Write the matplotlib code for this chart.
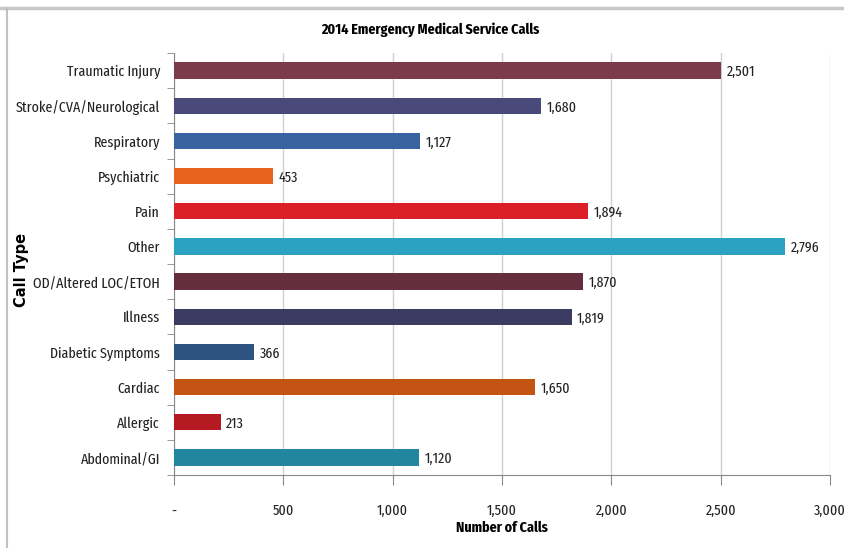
import matplotlib
matplotlib.use("Agg")
import matplotlib.pyplot as plt
from matplotlib.lines import Line2D
from matplotlib import font_manager
from matplotlib.font_manager import FontProperties

categories = ["Traumatic Injury", "Stroke/CVA/Neurological", "Respiratory", "Psychiatric",
              "Pain", "Other", "OD/Altered LOC/ETOH", "Illness", "Diabetic Symptoms",
              "Cardiac", "Allergic", "Abdominal/GI"]
values = [2501, 1680, 1127, 453, 1894, 2796, 1870, 1819, 366, 1650, 213, 1120]
colors = ["#7B3B4B", "#4A4A7A", "#3A64A0", "#E8641E", "#DC2028", "#2BA3C0",
          "#652E3E", "#3B3A60", "#2E5282", "#C45414", "#B51A22", "#22879E"]
xticks = [0, 500, 1000, 1500, 2000, 2500, 3000]
xticklabels = ["-", "500", "1,000", "1,500", "2,000", "2,500", "3,000"]


def pick(kind):
    """Find regular and bold files of a condensed font of given kind."""
    reg = bld = None
    for f in font_manager.fontManager.ttflist:
        low = f.fname.lower().replace("-", "").replace("_", "")
        if "italic" in low or "oblique" in low:
            continue
        if kind == "extra":
            if "extracondensed" not in low:
                continue
        elif kind == "cond":
            if ("condensed" not in low and "narrow" not in low) or "extra" in low or "semi" in low or "ultra" in low:
                continue
        bad = any(k in low for k in ("light", "thin", "medium", "black", "semibold", "extrabold", "heavy"))
        if bad:
            continue
        isbold = "bold" in low
        if isbold and bld is None:
            bld = f.fname
        if not isbold and reg is None:
            reg = f.fname
    return reg, bld


reg, bld = pick("extra")
if reg is None:
    reg, bld = pick("cond")
if reg:
    fp = FontProperties(fname=reg)
    fpb = FontProperties(fname=bld) if bld else FontProperties(fname=reg, weight="bold")
else:
    fp = FontProperties(family="Lato")
    fpb = FontProperties(family="Lato", weight="bold")

W, H = 844, 548
fig = plt.figure(figsize=(W / 100, H / 100), dpi=100)
rend = fig.canvas.get_renderer()
probe = fig.text(0, 0, "Stroke/CVA/Neurological", fontproperties=fp, fontsize=10)
wpx = probe.get_window_extent(renderer=rend).width
probe.remove()
base = min(13.0, 10.0 * 131.0 / wpx) * 1.1

ax = fig.add_axes([174 / W, 1 - 475 / H, (830 - 174) / W, (475 - 53) / H])

n = len(categories)
ypos = list(range(n))[::-1]
ax.barh(ypos, values, height=0.46, color=colors, zorder=3)
for y, v in zip(ypos, values):
    ax.text(v + 25, y - 0.05, f"{v:,}", va="center", ha="left", fontproperties=fp,
            fontsize=base, color="#222222")

ax.set_xlim(0, 3000)
ax.set_ylim(-0.5, n - 0.5)
ax.set_xticks(xticks)
ax.set_xticklabels(xticklabels, fontproperties=fp, fontsize=base, color="#222222")
ax.set_yticks(ypos)
ax.set_yticklabels(categories, fontproperties=fp, fontsize=base, color="#222222")
ax.tick_params(axis="y", which="major", length=0, pad=10)
ax.set_yticks([i - 0.5 for i in range(n + 1)], minor=True)
ax.tick_params(axis="y", which="minor", length=5, color="#888888", direction="out")
ax.tick_params(axis="x", which="major", length=7, color="#888888", direction="out", pad=14)

ax.grid(axis="x", color="#D0D0D0", linewidth=1, zorder=0)
for s in ["top", "right"]:
    ax.spines[s].set_visible(False)
ax.spines["left"].set_color("#888888")
ax.spines["bottom"].set_color("#888888")

ax.set_xlabel("Number of Calls", fontproperties=fpb, fontsize=base, labelpad=2)
fig.text(22 / W, 1 - 270 / H, "Call Type", rotation=90, fontsize=10.5, fontweight="bold",
         family="DejaVu Sans", ha="center", va="center")
fig.text(430 / W, 1 - 30 / H, "2014 Emergency Medical Service Calls", fontproperties=fpb,
         fontsize=base, ha="center", va="center")

fig.add_artist(Line2D([0, 1], [1 - 7.5 / H] * 2, transform=fig.transFigure, color="#C8C8C8", lw=2.5))
fig.add_artist(Line2D([6.5 / W] * 2, [0, 1 - 8 / H], transform=fig.transFigure, color="#C0C0C0", lw=1.5))

fig.savefig("out.png", dpi=100)
